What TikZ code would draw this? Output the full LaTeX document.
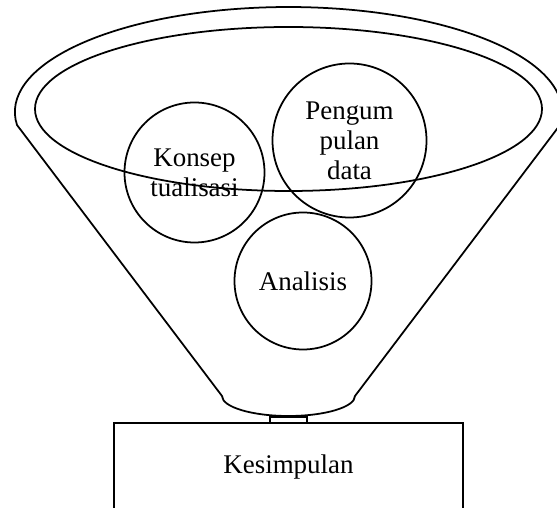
\documentclass[tikz,border=0pt]{standalone}
\usepackage{fontspec}
\setmainfont{Liberation Serif}
\begin{document}
\begin{tikzpicture}[x=0.03cm,y=0.03cm,
  every path/.style={line width=1.5pt},
  lbl/.style={font=\fontsize{23}{25.5}\selectfont, align=center},
  bubble/.style={draw, circle, inner sep=0pt, line width=1.5pt, lbl}]
\useasboundingbox (0,0) rectangle (557,508);
% funnel outline
\draw (17,383) arc[start angle=187.1, end angle=-7.1, x radius=273.6, y radius=105]
      -- (355,112) arc[start angle=0, end angle=-180, x radius=66.5, y radius=20]
      -- cycle;
% inner rim
\draw (288.5,399) ellipse [x radius=253.5, y radius=82];
% bubbles
\node[bubble, minimum size=4.2cm] (konsep) at (194.5,335.5) {Konsep\\tualisasi};
\node[bubble, minimum size=4.62cm] (pengum) at (349.5,367.5) {Pengum\\pulan\\data};
\node[bubble, minimum size=4.11cm] (analisis) at (303,227) {Analisis};
% neck and box
\node[draw, rectangle, inner sep=0pt, minimum width=1.11cm, minimum height=0.18cm, line width=1.5pt] (neck) at (288.5,88) {};
\node[draw, rectangle, inner sep=0pt, minimum width=10.47cm, minimum height=2.64cm, line width=1.5pt, lbl] (box) at (288.5,41) {Kesimpulan};
\end{tikzpicture}
\end{document}
